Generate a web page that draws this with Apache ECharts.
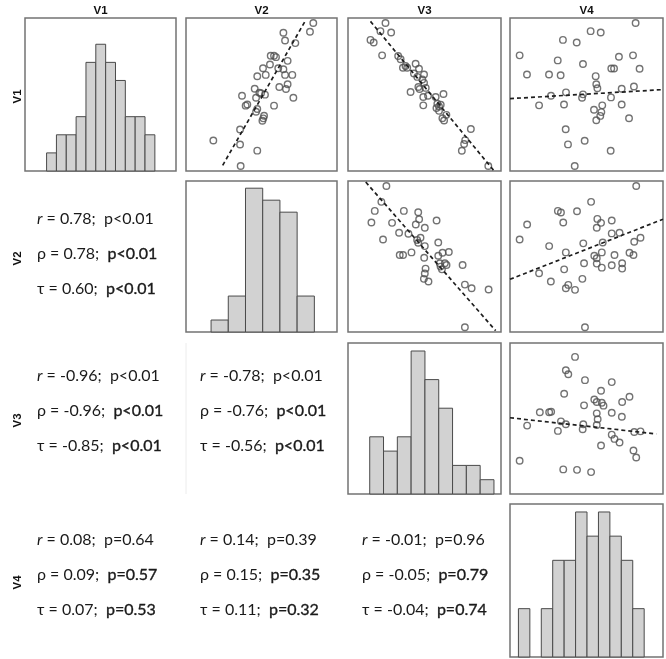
<!DOCTYPE html>
<html><head><meta charset="utf-8">
<script src="https://cdn.jsdelivr.net/npm/echarts@6/dist/echarts.min.js"></script>
<style>html,body{margin:0;padding:0;background:#fff}#c{width:666px;height:659px}</style>
</head><body><div id="c"></div>
<script>
// ---------------- DATA ----------------
const varNames = ['V1', 'V2', 'V3', 'V4'];

// histogram counts (diagonal panels)
const histV1 = [1, 2, 2, 3, 6, 7, 6, 5, 3, 3, 2];
const histV2 = [1, 3, 12, 11, 10, 3];
const histV3 = [4, 3, 4, 10, 8, 6, 2, 2, 1];
const histV4 = [2, 0, 2, 4, 4, 6, 5, 6, 5, 4, 2];
// first / last bin edge, in panel units (0-100)
const histFrom = [14.3, 16.6, 14.2, 5.5];
const histTo = [86.0, 85.0, 95.4, 87.7];
const histYMax = [8.45, 12.6, 10.56, 6.33];

// scatter points, panel units (x 0-100, y 0-100)
const scatV2V1 = [[84.3,96.7],[82.1,91.0],[64.5,90.4],[65.6,85.3],[72.4,83.6],[56.1,75.3],[58.3,75.3],[59.6,74.4],[67.3,72.0],[55.6,69.6],[61.1,67.2],[51.0,67.2],[64.5,66.5],[65.6,62.8],[70.4,62.8],[47.2,61.9],[52.8,62.8],[67.3,56.7],[61.8,54.9],[66.2,53.6],[45.5,53.8],[48.6,51.2],[37.1,49.2],[52.3,49.9],[46.4,47.9],[71.1,47.9],[40.6,43.5],[39.5,42.7],[58.3,42.7],[47.2,40.5],[46.4,38.7],[51.7,36.1],[51.2,34.4],[50.6,32.8],[35.8,27.1],[18.1,19.9],[35.8,17.3],[47.2,13.3],[36.2,3.3],[49.7,50.8]];
const scatV3V1 = [[24.5,96.7],[21.2,91.4],[28.2,90.5],[14.7,85.7],[16.8,84.0],[22.3,75.6],[32.8,75.2],[34.4,73.0],[35.9,67.5],[38.7,67.5],[44.2,70.1],[46.4,66.8],[43.1,63.7],[49.7,63.1],[45.3,61.5],[49.7,57.6],[46.0,54.9],[46.8,53.6],[50.8,54.3],[40.9,51.6],[49.2,48.4],[52.3,49.2],[57.3,48.4],[62.4,50.3],[49.2,42.9],[58.4,44.0],[60.6,43.3],[57.8,41.1],[59.5,39.3],[64.3,36.7],[61.7,34.5],[62.8,33.0],[80.3,27.5],[76.6,20.2],[75.9,17.6],[74.4,13.2],[91.7,3.3],[37.6,68.6],[48.6,59.8],[59.5,42.2]];
const scatV4V1 = [[82.1,96.7],[52.7,91.4],[59.3,90.5],[34.6,85.7],[43.6,84.0],[6.3,75.6],[71.2,74.7],[80.4,75.6],[31.2,72.3],[47.7,69.9],[66.2,67.0],[68.0,67.0],[84.7,66.8],[11.1,63.1],[25.5,63.1],[33.1,62.6],[56.0,62.0],[56.4,56.7],[57.1,54.1],[73.0,53.8],[81.0,55.2],[36.6,51.4],[26.8,49.2],[47.7,50.1],[47.1,47.9],[66.0,48.1],[19.0,42.9],[35.3,43.5],[60.3,42.9],[73.0,43.5],[54.9,40.0],[59.7,38.5],[59.0,36.0],[56.4,33.2],[77.8,34.5],[36.4,27.3],[37.9,17.4],[48.8,19.8],[65.8,13.2],[42.3,3.3]];
const scatV3V2 = [[25.1,96.7],[21.8,86.2],[17.5,80.2],[36.5,80.2],[45.9,79.3],[15.3,72.5],[28.8,72.3],[46.5,74.7],[44.3,71.2],[57.9,73.8],[50.2,69.0],[33.4,65.7],[39.5,65.1],[22.9,61.3],[47.4,62.4],[45.2,60.9],[45.9,59.1],[50.2,56.9],[59.0,59.3],[33.8,51.0],[36.0,51.0],[41.5,52.7],[49.8,49.2],[59.0,50.5],[61.8,52.5],[65.9,53.0],[60.0,45.5],[63.3,45.5],[60.5,43.3],[61.4,41.5],[50.7,42.0],[50.2,38.7],[49.6,35.2],[52.6,33.4],[74.9,44.4],[76.4,31.4],[80.8,29.0],[91.9,28.1],[76.4,3.1],[64.4,44.4]];
const scatV4V2 = [[82.5,96.7],[53.0,86.2],[31.3,80.2],[33.3,79.1],[43.8,80.0],[11.2,71.2],[34.8,72.5],[6.3,61.3],[57.1,74.9],[59.5,72.3],[66.5,73.8],[56.7,69.0],[66.5,65.3],[71.6,65.7],[81.2,59.8],[85.3,62.4],[47.9,58.7],[60.6,59.3],[25.6,56.9],[36.5,52.7],[60.0,52.7],[68.3,51.0],[78.1,52.5],[80.7,51.0],[55.1,50.5],[56.7,48.8],[48.4,45.5],[56.7,45.3],[60.0,42.6],[66.5,44.2],[73.3,45.5],[73.3,42.0],[35.4,41.5],[19.0,38.9],[26.7,33.4],[47.3,35.2],[38.1,31.2],[36.5,29.0],[42.5,27.9],[49.0,3.1]];
const scatV4V3 = [[42.5,90.8],[36.5,82.0],[38.1,79.3],[49.0,75.4],[66.5,74.1],[59.5,68.4],[35.4,66.4],[78.1,64.4],[55.1,62.6],[56.7,60.9],[60.0,60.4],[61.1,58.5],[73.3,60.9],[48.4,58.7],[19.5,54.1],[25.6,54.1],[26.9,54.5],[56.7,53.4],[66.5,53.8],[73.1,51.2],[57.3,49.5],[33.3,48.1],[36.5,46.2],[47.9,46.2],[56.7,45.7],[11.2,45.3],[47.5,42.9],[31.3,41.8],[81.2,41.1],[85.3,41.5],[66.5,39.3],[68.3,36.5],[71.6,34.1],[59.5,32.1],[80.7,28.8],[82.5,24.2],[6.3,22.0],[34.8,16.3],[43.8,16.0],[53.0,14.5]];

// dashed fitted lines: two end points each (panel units)
const fitV2V1 = [[24.3,3.7],[78.8,97.8]];
const fitV3V1 = [[14.7,97.8],[95.2,0.4]];
const fitV4V1 = [[0,47.3],[100,53.2]];
const fitV3V2 = [[11.6,99.3],[96.5,0.9]];
const fitV4V2 = [[0,34.9],[100,74.7]];
const fitV4V3 = [[0,50.5],[95.6,39.8]];

// correlation statistics for lower panels: (V2,V1),(V3,V1),(V3,V2),(V4,V1),(V4,V2),(V4,V3)
const statR = [0.78, -0.96, -0.78, 0.08, 0.14, -0.01];
const statRP = ['p<0.01', 'p<0.01', 'p<0.01', 'p=0.64', 'p=0.39', 'p=0.96'];
const statRho = [0.78, -0.96, -0.76, 0.09, 0.15, -0.05];
const statRhoP = ['p<0.01', 'p<0.01', 'p<0.01', 'p=0.57', 'p=0.35', 'p=0.79'];
const statTau = [0.60, -0.85, -0.56, 0.07, 0.11, -0.04];
const statTauP = ['p<0.01', 'p<0.01', 'p<0.01', 'p=0.53', 'p=0.32', 'p=0.74'];

// ---------------- LAYOUT ----------------
const colLeft = [25, 186, 348, 510], colW = [151, 151, 153, 153];
const rowTop = [18, 181, 343, 504], rowH = [153, 151, 151, 153];
const statPos = [[1,0],[2,0],[2,1],[3,0],[3,1],[3,2]];
const statX = [37, 200, 362];
const statY0 = [0, 219, 376, 540];
const statDy = 35;

const hists = [histV1, histV2, histV3, histV4];
const scatters = [
  {r:0, c:1, pts:scatV2V1, fit:fitV2V1},
  {r:0, c:2, pts:scatV3V1, fit:fitV3V1},
  {r:0, c:3, pts:scatV4V1, fit:fitV4V1},
  {r:1, c:2, pts:scatV3V2, fit:fitV3V2},
  {r:1, c:3, pts:scatV4V2, fit:fitV4V2},
  {r:2, c:3, pts:scatV4V3, fit:fitV4V3}
];

const grid = [], xAxis = [], yAxis = [], series = [];
function addPanel(r, c, ymax) {
  const i = grid.length;
  grid.push({left: colLeft[c], top: rowTop[r], width: colW[c], height: rowH[r],
    show: true, borderColor: '#737373', borderWidth: 1.5, backgroundColor: '#fff'});
  xAxis.push({type: 'value', gridIndex: i, min: 0, max: 100, show: false});
  yAxis.push({type: 'value', gridIndex: i, min: 0, max: ymax, show: false});
  return i;
}

// histograms
hists.forEach((h, k) => {
  const gi = addPanel(k, k, histYMax[k]);
  const w = (histTo[k] - histFrom[k]) / h.length;
  const data = [];
  h.forEach((cnt, j) => { if (cnt > 0) data.push([histFrom[k] + j * w, histFrom[k] + (j + 1) * w, cnt]); });
  series.push({
    type: 'custom', xAxisIndex: gi, yAxisIndex: gi, data: data, silent: true,
    renderItem: function (params, api) {
      const p0 = api.coord([api.value(0), api.value(2)]);
      const p1 = api.coord([api.value(1), 0]);
      return {type: 'rect', shape: {x: p0[0], y: p0[1], width: p1[0] - p0[0], height: p1[1] - p0[1]},
        style: {fill: '#d2d2d2', stroke: '#4a4a4a', lineWidth: 1}};
    }
  });
});

// scatter panels
scatters.forEach(s => {
  const gi = addPanel(s.r, s.c, 100);
  series.push({type: 'scatter', xAxisIndex: gi, yAxisIndex: gi, data: s.pts, symbol: 'circle', symbolSize: 6.5,
    itemStyle: {color: 'rgba(255,255,255,0)', borderColor: '#505050', borderWidth: 1.4}, silent: true});
  series.push({type: 'line', xAxisIndex: gi, yAxisIndex: gi, data: s.fit, symbol: 'none', silent: true,
    lineStyle: {color: '#1e1e1e', width: 1.7, type: [4, 3]}});
});

// text graphics
const graphic = [];
const FONT = 'Lato, "Noto Sans", sans-serif';
varNames.forEach((v, k) => {
  graphic.push({type: 'text', x: colLeft[k] + colW[k] / 2, y: 10.5,
    style: {text: v, fontFamily: 'Arial, "Liberation Sans", sans-serif', fontWeight: 'bold', fontSize: 11.5,
      fill: '#111', align: 'center', verticalAlign: 'middle'}});
  graphic.push({type: 'text', x: 17.5, y: rowTop[k] + rowH[k] / 2 + 2, rotation: Math.PI / 2,
    style: {text: v, fontFamily: 'Arial, "Liberation Sans", sans-serif', fontWeight: 'bold', fontSize: 11.5,
      fill: '#111', align: 'center', verticalAlign: 'middle'}});
});
const rich = {
  i: {fontFamily: FONT, fontSize: 16, fontStyle: 'italic', fill: '#1a1a1a'},
  n: {fontFamily: FONT, fontSize: 16, fill: '#1a1a1a'},
  b: {fontFamily: FONT, fontSize: 16, fill: '#1a1a1a', stroke: '#1a1a1a', lineWidth: 0.35}
};
statPos.forEach((rc, k) => {
  const x = statX[rc[1]], y0 = statY0[rc[0]];
  const lines = [
    '{i|r}{n| = ' + statR[k].toFixed(2) + ';  ' + statRP[k] + '}',
    '{n|\u03c1 = ' + statRho[k].toFixed(2) + ';  }{b|' + statRhoP[k] + '}',
    '{n|\u03c4 = ' + statTau[k].toFixed(2) + ';  }{b|' + statTauP[k] + '}'
  ];
  lines.forEach((t, j) => {
    graphic.push({type: 'text', x: x, y: y0 + j * statDy,
      style: {text: t, rich: rich, fontFamily: FONT, fontSize: 16, fill: '#1a1a1a', align: 'left', verticalAlign: 'middle'}});
  });
});
// faint border of the empty panel
graphic.push({type: 'line', shape: {x1: 186, y1: 343, x2: 186, y2: 494}, style: {stroke: '#ececec', lineWidth: 1}});

const chart = echarts.init(document.getElementById('c'), null, {renderer: 'canvas'});
chart.setOption({animation: false, backgroundColor: '#fff', grid, xAxis, yAxis, series, graphic});
</script></body></html>
